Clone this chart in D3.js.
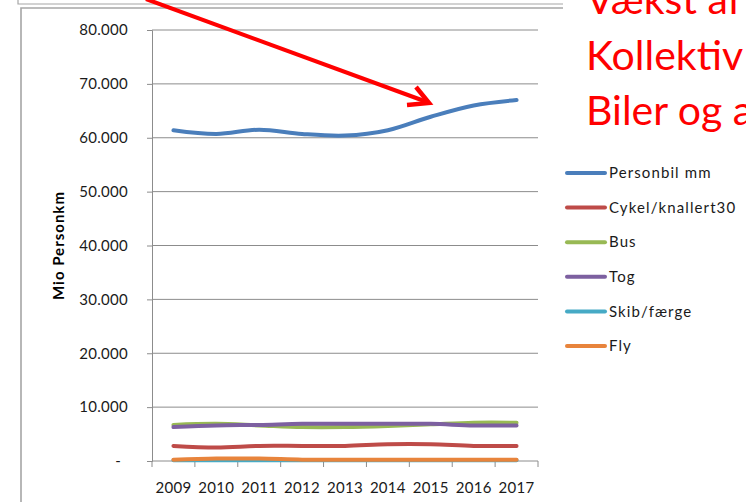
<!DOCTYPE html>
<html>
<head>
<meta charset="utf-8">
<script src="https://cdn.jsdelivr.net/npm/d3@7"></script>
<style>
  body { margin: 0; background: #fff; }
  svg { display: block; font-family: Lato, "Open Sans", sans-serif; }
</style>
</head>
<body>
<div id="chart"></div>
<script>
// Data
const years = ['2009', '2010', '2011', '2012', '2013', '2014', '2015', '2016', '2017']
const personbil = [61400, 60700, 61500, 60700, 60400, 61400, 63900, 66000, 67000]
const cykel = [2800, 2500, 2800, 2800, 2800, 3100, 3100, 2800, 2800]
const bus = [6700, 6900, 6600, 6300, 6300, 6500, 6800, 7100, 7100]
const tog = [6300, 6600, 6700, 6900, 6900, 6900, 6900, 6600, 6600]
const skib = [150, 130, 140, 160, 150, 150, 160, 150, 150]
const fly = [250, 450, 450, 250, 250, 250, 250, 250, 250]
const seriesNames = ['Personbil mm', 'Cykel/knallert30', 'Bus', 'Tog', 'Skib/færge', 'Fly']
const seriesColors = ['#4a7ebb', '#be4b48', '#98b954', '#7d60a0', '#46aac5', '#e8843c']
const yTicks = [0, 10000, 20000, 30000, 40000, 50000, 60000, 70000, 80000]
const yTitle = 'Mio Personkm'
const notes = ['Vækst af', 'Kollektiv', 'Biler og a']

const series = [personbil, cykel, bus, tog, skib, fly].map((values, i) => ({
  name: seriesNames[i],
  color: seriesColors[i],
  values: values.map((v, j) => ({ year: years[j], value: v }))
}))

// Dimensions
const dimensions = {
  width: 746,
  height: 502,
  left: 152,
  right: 538,
  top: 30,
  bottom: 461,
}

const svg = d3.select('#chart')
  .append('svg')
  .attr('width', dimensions.width)
  .attr('height', dimensions.height)

// Frames (slide boxes)
svg.append('path')
  .attr('d', 'M18,0 V4 H563')
  .attr('fill', 'none')
  .attr('stroke', '#a6a6a6')
  .attr('stroke-width', 1.2)
svg.append('path')
  .attr('d', 'M21,502 V8 H563')
  .attr('fill', 'none')
  .attr('stroke', '#a6a6a6')
  .attr('stroke-width', 1.6)

// Scales
const xBand = d3.scaleBand()
  .domain(years)
  .range([dimensions.left, dimensions.right])
const xScale = d => xBand(d) + xBand.bandwidth() / 2

const yScale = d3.scaleLinear()
  .domain([0, 80000])
  .range([dimensions.bottom, dimensions.top])

const da = d3.formatLocale({ decimal: ',', thousands: '.', grouping: [3], currency: ['', ''] })
const fmt = da.format(',')

// Gridlines
svg.append('g')
  .selectAll('line')
  .data(yTicks.filter(d => d > 0))
  .join('line')
  .attr('x1', dimensions.left)
  .attr('x2', dimensions.right)
  .attr('y1', d => yScale(d))
  .attr('y2', d => yScale(d))
  .attr('stroke', '#8c8c8c')
  .attr('stroke-width', 1)

// Y axis
const yAxis = d3.axisLeft(yScale)
  .tickValues(yTicks)
  .tickSize(5)
  .tickPadding(19)
  .tickFormat(d => d === 0 ? '-' : fmt(d))

const yAxisGroup = svg.append('g')
  .attr('transform', `translate(${dimensions.left},0)`)
  .call(yAxis)
yAxisGroup.select('.domain').attr('stroke', '#8c8c8c')
yAxisGroup.selectAll('.tick line').attr('stroke', '#8c8c8c')
yAxisGroup.selectAll('.tick text')
  .attr('font-family', 'Lato, sans-serif')
  .attr('font-size', 15)
  .attr('letter-spacing', 0.3)
  .attr('fill', '#1a1a1a')
  .attr('dx', d => d === 0 ? -7 : 0)

svg.append('text')
  .attr('transform', `translate(64, ${(dimensions.top + dimensions.bottom) / 2}) rotate(-90)`)
  .attr('text-anchor', 'middle')
  .attr('font-size', 15)
  .attr('letter-spacing', 1)
  .attr('font-weight', 'bold')
  .attr('fill', '#000')
  .text(yTitle)

// X axis
const xAxisGroup = svg.append('g')
  .attr('transform', `translate(0,${dimensions.bottom})`)
xAxisGroup.append('line')
  .attr('x1', dimensions.left)
  .attr('x2', dimensions.right)
  .attr('stroke', '#8c8c8c')
xAxisGroup.selectAll('.edge')
  .data(years.concat(['end']))
  .join('line')
  .attr('class', 'edge')
  .attr('x1', (d, i) => i < years.length ? xBand(d) : dimensions.right)
  .attr('x2', (d, i) => i < years.length ? xBand(d) : dimensions.right)
  .attr('y1', 0)
  .attr('y2', 6)
  .attr('stroke', '#8c8c8c')
xAxisGroup.selectAll('.lbl')
  .data(years)
  .join('text')
  .attr('class', 'lbl')
  .attr('x', d => xScale(d))
  .attr('y', 32)
  .attr('text-anchor', 'middle')
  .attr('font-size', 15)
  .attr('letter-spacing', 0.3)
  .attr('fill', '#1a1a1a')
  .text(d => d)

// Lines
const lineGenerator = d3.line()
  .x(d => xScale(d.year))
  .y(d => yScale(d.value))
  .curve(d3.curveCatmullRom.alpha(0.5))

svg.append('g')
  .selectAll('path')
  .data(series)
  .join('path')
  .attr('d', d => lineGenerator(d.values))
  .attr('fill', 'none')
  .attr('stroke', d => d.color)
  .attr('stroke-width', 4)
  .attr('stroke-linecap', 'round')
  .attr('stroke-linejoin', 'round')

// Legend
const legend = svg.append('g')
  .selectAll('g')
  .data(series)
  .join('g')
  .attr('transform', (d, i) => `translate(567, ${173 + i * 34.6})`)
legend.append('line')
  .attr('x1', 0)
  .attr('x2', 38)
  .attr('stroke', d => d.color)
  .attr('stroke-width', 4)
  .attr('stroke-linecap', 'round')
legend.append('text')
  .attr('x', 42)
  .attr('dy', '0.35em')
  .attr('font-size', 15)
  .attr('letter-spacing', 1.1)
  .attr('fill', '#1a1a1a')
  .text(d => d.name)

// Red annotation
svg.append('line')
  .attr('x1', 146)
  .attr('y1', -1)
  .attr('x2', 427)
  .attr('y2', 102)
  .attr('stroke', '#ff0000')
  .attr('stroke-width', 4)
svg.append('path')
  .attr('d', 'M416,87 L429,103 L407,105')
  .attr('fill', 'none')
  .attr('stroke', '#ff0000')
  .attr('stroke-width', 4.5)
  .attr('stroke-linejoin', 'miter')

svg.append('g')
  .selectAll('text')
  .data(notes)
  .join('text')
  .attr('x', 586)
  .attr('y', (d, i) => 14 + i * 55.5)
  .attr('font-size', 41)
  .attr('fill', '#ff0000')
  .text(d => d)
</script>
</body>
</html>
